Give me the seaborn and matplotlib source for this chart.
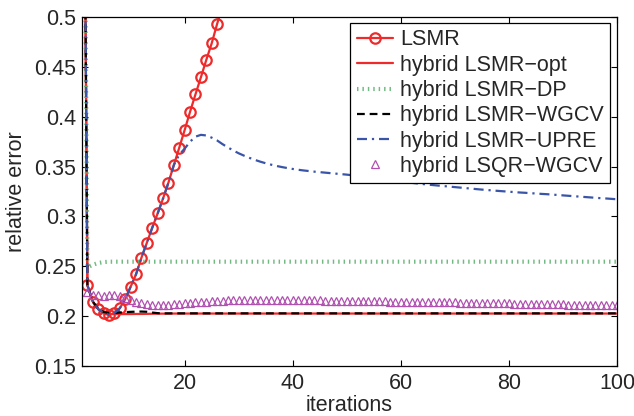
import matplotlib
matplotlib.use("Agg")
import matplotlib.pyplot as plt
import seaborn as sns

# ----------- DATA -----------

iterations = list(range(1, 101))

lsmr = [
    1.0, 0.231, 0.2145, 0.207, 0.203, 0.201, 0.203, 0.208, 0.217, 0.2295,
    0.242, 0.2586, 0.2736, 0.2887, 0.303, 0.318, 0.334, 0.3516, 0.369, 0.3867,
    0.405, 0.4225, 0.4395, 0.457, 0.4736, 0.493, 0.511,
]

lsmr_opt = [
    1.0, 0.231, 0.2145, 0.207, 0.2035, 0.2022, 0.2020, 0.2020, 0.2021, 0.2021,
    0.2022, 0.2022, 0.2023, 0.2024, 0.2025, 0.2025, 0.2025, 0.2026, 0.2026, 0.2026,
    0.2026, 0.2026, 0.2026, 0.2026, 0.2026, 0.2026, 0.2026, 0.2026, 0.2026, 0.2026,
    0.2026, 0.2026, 0.2026, 0.2026, 0.2026, 0.2026, 0.2026, 0.2026, 0.2026, 0.2026,
    0.2026, 0.2026, 0.2026, 0.2026, 0.2026, 0.2026, 0.2026, 0.2026, 0.2026, 0.2026,
    0.2026, 0.2026, 0.2026, 0.2026, 0.2026, 0.2026, 0.2026, 0.2026, 0.2026, 0.2026,
    0.2026, 0.2026, 0.2026, 0.2026, 0.2026, 0.2026, 0.2026, 0.2026, 0.2026, 0.2026,
    0.2026, 0.2026, 0.2026, 0.2026, 0.2026, 0.2026, 0.2026, 0.2026, 0.2026, 0.2026,
    0.2026, 0.2026, 0.2026, 0.2026, 0.2026, 0.2026, 0.2026, 0.2026, 0.2026, 0.2026,
    0.2026, 0.2026, 0.2026, 0.2026, 0.2026, 0.2026, 0.2026, 0.2026, 0.2026, 0.2026,
]

lsmr_dp = [
    1.0, 0.249, 0.2515, 0.2533, 0.2542, 0.2546, 0.2546, 0.2546, 0.2546, 0.2546,
    0.2546, 0.2546, 0.2546, 0.2546, 0.2546, 0.2546, 0.2546, 0.2546, 0.2546, 0.2546,
    0.2546, 0.2546, 0.2546, 0.2546, 0.2546, 0.2546, 0.2546, 0.2546, 0.2546, 0.2546,
    0.2546, 0.2546, 0.2546, 0.2546, 0.2546, 0.2546, 0.2546, 0.2546, 0.2546, 0.2546,
    0.2546, 0.2546, 0.2546, 0.2546, 0.2546, 0.2546, 0.2546, 0.2546, 0.2546, 0.2546,
    0.2546, 0.2546, 0.2546, 0.2546, 0.2546, 0.2546, 0.2546, 0.2546, 0.2546, 0.2546,
    0.2546, 0.2546, 0.2546, 0.2546, 0.2546, 0.2546, 0.2546, 0.2546, 0.2546, 0.2546,
    0.2546, 0.2546, 0.2546, 0.2546, 0.2546, 0.2546, 0.2546, 0.2546, 0.2546, 0.2546,
    0.2546, 0.2546, 0.2546, 0.2546, 0.2546, 0.2546, 0.2546, 0.2546, 0.2546, 0.2546,
    0.2546, 0.2546, 0.2546, 0.2546, 0.2546, 0.2546, 0.2546, 0.2546, 0.2546, 0.2546,
]

lsmr_wgcv = [
    1.0, 0.231, 0.2145, 0.2075, 0.2042, 0.2032, 0.2032, 0.2036, 0.2040, 0.2043,
    0.2045, 0.2046, 0.2044, 0.2036, 0.2030, 0.2028, 0.2028, 0.2028, 0.2028, 0.2028,
    0.2028, 0.2028, 0.2028, 0.2028, 0.2028, 0.2028, 0.2028, 0.2028, 0.2028, 0.2028,
    0.2028, 0.2028, 0.2028, 0.2028, 0.2028, 0.2028, 0.2028, 0.2028, 0.2028, 0.2028,
    0.2028, 0.2028, 0.2028, 0.2028, 0.2028, 0.2028, 0.2028, 0.2028, 0.2028, 0.2028,
    0.2028, 0.2028, 0.2028, 0.2028, 0.2028, 0.2028, 0.2028, 0.2028, 0.2028, 0.2028,
    0.2028, 0.2028, 0.2028, 0.2028, 0.2028, 0.2028, 0.2028, 0.2028, 0.2028, 0.2028,
    0.2028, 0.2028, 0.2028, 0.2028, 0.2028, 0.2028, 0.2028, 0.2028, 0.2028, 0.2028,
    0.2028, 0.2028, 0.2028, 0.2028, 0.2028, 0.2028, 0.2028, 0.2028, 0.2028, 0.2028,
    0.2028, 0.2028, 0.2028, 0.2028, 0.2028, 0.2028, 0.2028, 0.2028, 0.2028, 0.2028,
]

lsmr_upre = [
    1.0, 0.231, 0.2145, 0.207, 0.203, 0.2015, 0.203, 0.208, 0.217, 0.2295,
    0.242, 0.2586, 0.2736, 0.2887, 0.303, 0.318, 0.334, 0.3516, 0.362, 0.368,
    0.375, 0.380, 0.3818, 0.3812, 0.379, 0.3762, 0.3725, 0.3692, 0.3661, 0.3633,
    0.3609, 0.3587, 0.3567, 0.3549, 0.3533, 0.3519, 0.3506, 0.3495, 0.3485, 0.3476,
    0.3468, 0.3461, 0.3455, 0.3449, 0.3444, 0.3439, 0.3434, 0.3429, 0.3424, 0.3419,
    0.3413, 0.3406, 0.3399, 0.3392, 0.3385, 0.3378, 0.3371, 0.3364, 0.3357, 0.3350,
    0.3343, 0.3337, 0.3331, 0.3325, 0.3319, 0.3314, 0.3309, 0.3304, 0.3299, 0.3294,
    0.3289, 0.3284, 0.3279, 0.3274, 0.3269, 0.3265, 0.3260, 0.3256, 0.3252, 0.3248,
    0.3244, 0.3240, 0.3237, 0.3233, 0.3230, 0.3226, 0.3223, 0.3219, 0.3215, 0.3211,
    0.3207, 0.3203, 0.3199, 0.3195, 0.3191, 0.3187, 0.3183, 0.3180, 0.3176, 0.3172,
]

lsqr_wgcv = [
    1.0, 0.224, 0.2215, 0.221, 0.2205, 0.221, 0.2215, 0.2205, 0.2185, 0.2160,
    0.2140, 0.2127, 0.2118, 0.2112, 0.2110, 0.2111, 0.2114, 0.2118, 0.2122, 0.2127,
    0.2132, 0.2137, 0.2141, 0.2145, 0.2149, 0.2152, 0.2155, 0.2158, 0.2160, 0.2162,
    0.2163, 0.2164, 0.2165, 0.2165, 0.2165, 0.2165, 0.2164, 0.2164, 0.2163, 0.2162,
    0.2161, 0.2160, 0.2159, 0.2158, 0.2157, 0.2156, 0.2155, 0.2154, 0.2153, 0.2152,
    0.2151, 0.2150, 0.2150, 0.2149, 0.2148, 0.2148, 0.2147, 0.2146, 0.2146, 0.2145,
    0.2144, 0.2143, 0.2143, 0.2142, 0.2141, 0.2140, 0.2139, 0.2139, 0.2138, 0.2137,
    0.2136, 0.2135, 0.2134, 0.2133, 0.2132, 0.2131, 0.2130, 0.2129, 0.2128, 0.2127,
    0.2126, 0.2125, 0.2124, 0.2123, 0.2122, 0.2121, 0.2120, 0.2119, 0.2118, 0.2117,
    0.2116, 0.2115, 0.2114, 0.2113, 0.2112, 0.2112, 0.2111, 0.2110, 0.2109, 0.2108,
]

x_ticks = [20, 40, 60, 80, 100]
y_ticks = [0.15, 0.2, 0.25, 0.3, 0.35, 0.4, 0.45, 0.5]
y_tick_labels = ["0.15", "0.2", "0.25", "0.3", "0.35", "0.4", "0.45", "0.5"]

# ----------- STYLE -----------

sns.set_style("ticks")
plt.rcParams["font.family"] = ["Liberation Sans", "DejaVu Sans"]
plt.rcParams["xtick.direction"] = "in"
plt.rcParams["ytick.direction"] = "in"

fig, ax = plt.subplots(figsize=(6.34, 4.16), dpi=100)
fig.subplots_adjust(left=82 / 634, right=617 / 634, bottom=50 / 416, top=399 / 416)

red = "#ee2a2a"
green = "#5aad6c"
blue = "#3a55a8"
purple = "#b050b0"
fs = 15.5

# ----------- CURVES -----------

sns.lineplot(x=iterations[:len(lsmr)], y=lsmr, ax=ax, color=red, lw=1.6,
             marker="o", markersize=7.5, markerfacecolor="none",
             markeredgecolor=red, markeredgewidth=1.6, label="LSMR")
sns.lineplot(x=iterations, y=lsmr_opt, ax=ax, color=red, lw=1.6,
             label="hybrid LSMR\u2212opt")
sns.lineplot(x=iterations, y=lsmr_dp, ax=ax, color=green, lw=3.0, alpha=0.85,
             linestyle=(0, (0.35, 0.95)), label="hybrid LSMR\u2212DP")
sns.lineplot(x=iterations, y=lsmr_wgcv, ax=ax, color="black", lw=1.6,
             linestyle=(0, (3.5, 2.2)), label="hybrid LSMR\u2212WGCV")
sns.lineplot(x=iterations, y=lsmr_upre, ax=ax, color=blue, lw=1.6,
             linestyle=(0, (4.5, 2.2, 1.0, 2.2)), label="hybrid LSMR\u2212UPRE")
sns.lineplot(x=iterations, y=lsqr_wgcv, ax=ax, color=purple, linestyle="none",
             marker="^", markersize=5.5, markerfacecolor="none",
             markeredgecolor=purple, markeredgewidth=0.9, label="hybrid LSQR\u2212WGCV")

# ----------- AXES -----------

ax.set_xlim(1, 100)
ax.set_ylim(0.15, 0.5)
ax.set_xticks(x_ticks)
ax.set_xticklabels([str(t) for t in x_ticks])
ax.set_yticks(y_ticks)
ax.set_yticklabels(y_tick_labels)
ax.tick_params(axis="both", which="both", direction="in", length=4, width=0.8,
               top=True, right=True, labelsize=fs, color="black")
ax.tick_params(axis="x", pad=5)
ax.tick_params(axis="y", pad=4)
for s in ax.spines.values():
    s.set_visible(True)
    s.set_color("black")
    s.set_linewidth(0.9)

ax.set_xlabel("iterations", fontsize=fs, labelpad=1)
ax.set_ylabel("relative error", fontsize=fs, labelpad=5)

leg = ax.legend(loc="upper right", bbox_to_anchor=(610 / 634, (416 - 23) / 416),
                bbox_transform=fig.transFigure, borderaxespad=0, fontsize=fs,
                frameon=True, fancybox=False, framealpha=1, edgecolor="black",
                handlelength=1.7, handletextpad=0.3, labelspacing=0.2,
                borderpad=0.3)
leg.get_frame().set_linewidth(0.9)

fig.savefig("out.png", dpi=100)
